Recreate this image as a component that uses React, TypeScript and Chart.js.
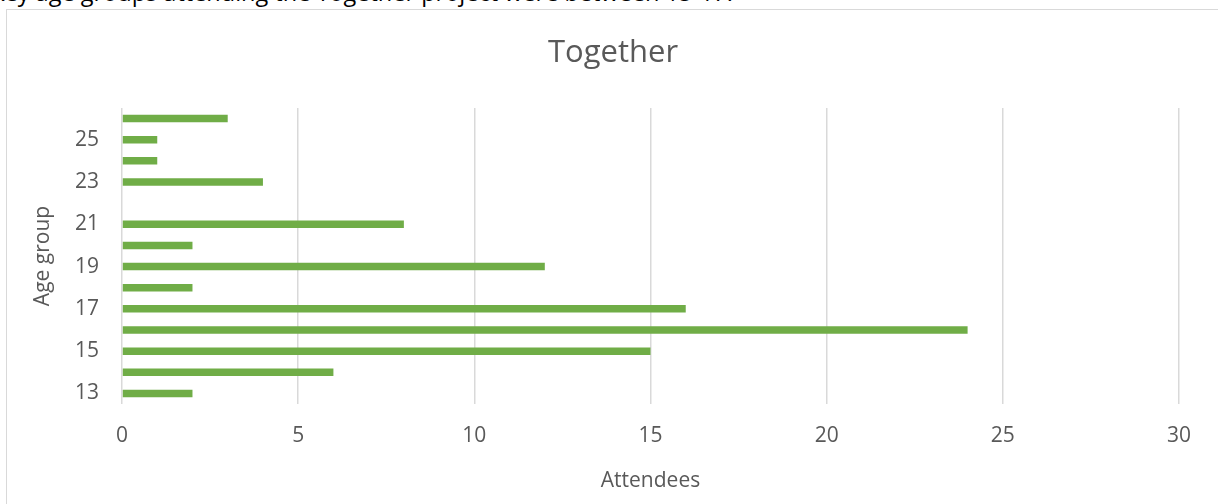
import React, { useEffect, useRef } from "react";
import { Chart, registerables } from "chart.js";

Chart.register(...registerables);

// Age groups (years) and number of attendees for each
const ageGroups: string[] = ["13", "14", "15", "16", "17", "18", "19", "20", "21", "22", "23", "24", "25", "26"];
const attendees: number[] = [2, 6, 15, 24, 16, 2, 12, 2, 8, 0, 4, 1, 1, 3];

const chartTitle = "Together";
const xAxisTitle = "Attendees";
const yAxisTitle = "Age group";
const caption = "Key age groups attending the Together project were between 15-17.";

const FONT = "'Open Sans', 'Liberation Sans', sans-serif";
const TEXT_GREY = "#595959";
const BAR_GREEN = "#70AD47";
const GRID_GREY = "#d9d9d9";

const CANVAS_W = 1210;
const CANVAS_H = 493;

export default function App() {
  const canvasRef = useRef<HTMLCanvasElement | null>(null);

  useEffect(() => {
    const canvas = canvasRef.current;
    if (!canvas) return;
    const chart = new Chart(canvas, {
      type: "bar",
      data: {
        labels: ageGroups,
        datasets: [
          {
            label: "Attendees",
            data: attendees,
            backgroundColor: BAR_GREEN,
            borderWidth: 0,
            categoryPercentage: 1,
            barPercentage: 0.355,
            yAxisID: "y",
          },
        ],
      },
      options: {
        indexAxis: "y",
        animation: false,
        responsive: false,
        layout: { padding: { left: 0, right: 0, top: 0, bottom: 0 } },
        plugins: {
          legend: { display: false },
          tooltip: { enabled: false },
          title: {
            display: true,
            text: chartTitle,
            color: TEXT_GREY,
            font: { family: FONT, size: 31, weight: "normal", lineHeight: 1.2 },
            padding: { top: 23.4, bottom: 36.4 },
          },
        },
        scales: {
          x: {
            type: "linear",
            min: 0,
            max: 30,
            ticks: {
              stepSize: 5,
              color: TEXT_GREY,
              padding: 19.5,
              font: { family: FONT, size: 21, lineHeight: 1.2 },
            },
            grid: { color: GRID_GREY, lineWidth: 1.5, drawTicks: false },
            border: { display: false },
            title: {
              display: true,
              text: xAxisTitle,
              color: TEXT_GREY,
              font: { family: FONT, size: 21, lineHeight: 1.2 },
              padding: { top: 0, bottom: 10.6 },
            },
          },
          y: {
            type: "category",
            reverse: true,
            ticks: {
              autoSkip: false,
              color: TEXT_GREY,
              padding: 23,
              font: { family: FONT, size: 21, lineHeight: 1.2 },
              callback: (_value: any, index: number) => (index % 2 === 0 ? ageGroups[index] : ""),
            },
            grid: { display: false, drawTicks: false },
            border: { display: false },
            title: {
              display: true,
              text: yAxisTitle,
              color: TEXT_GREY,
              font: { family: FONT, size: 21, lineHeight: 1.2 },
              padding: { top: 22.4, bottom: -3.6 },
            },
          },
          // empty right-hand axis that keeps the margin between plot and chart edge
          yRight: {
            type: "category",
            position: "right",
            display: true,
            ticks: { display: false },
            grid: { display: false, drawTicks: false },
            border: { display: false },
            title: { display: false },
            afterFit: (scale: any) => {
              scale.width = 39;
            },
          },
        },
      },
    });
    return () => chart.destroy();
  }, []);

  return (
    <div
      style={{
        position: "fixed",
        left: 0,
        top: 0,
        width: 1218,
        height: 504,
        overflow: "hidden",
        background: "#ffffff",
      }}
    >
      <div
        style={{
          position: "absolute",
          right: 485,
          top: -19,
          whiteSpace: "nowrap",
          fontFamily: FONT,
          fontSize: 23.5,
          lineHeight: "23.5px",
          color: "#000000",
        }}
      >
        {caption}
      </div>
      <div
        style={{
          position: "absolute",
          left: 6,
          top: 9,
          width: 1400,
          height: 700,
          border: "1px solid #d9d9d9",
        }}
      />
      <canvas
        ref={canvasRef}
        width={CANVAS_W}
        height={CANVAS_H}
        style={{ position: "absolute", left: 8, top: 11, width: CANVAS_W, height: CANVAS_H }}
      />
    </div>
  );
}
